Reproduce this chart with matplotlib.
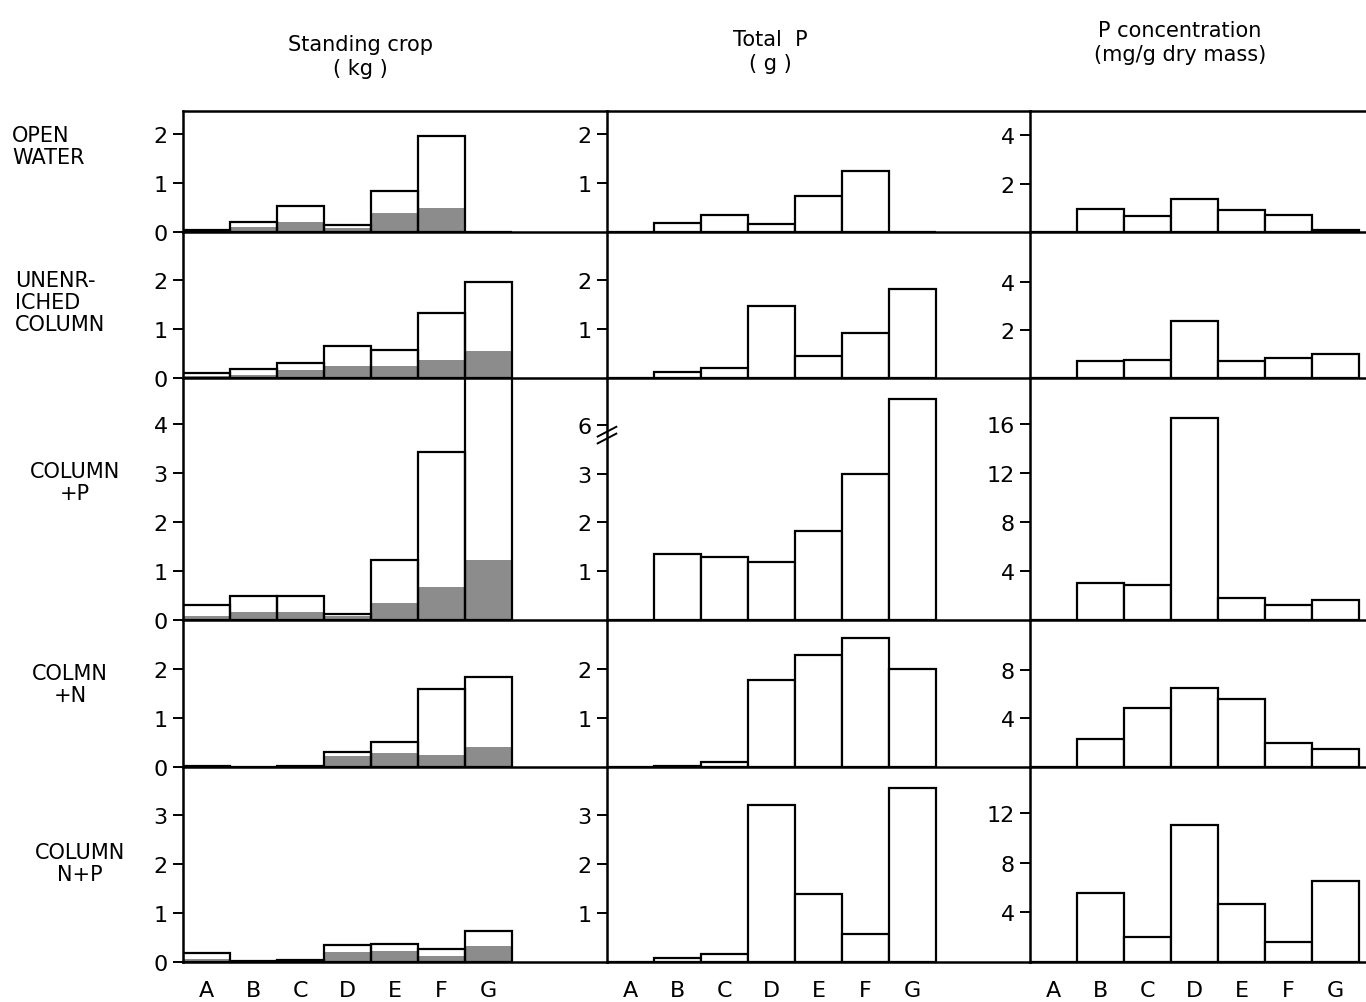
import numpy as np
import matplotlib.pyplot as plt
from matplotlib.transforms import blended_transform_factory

sites = ['A', 'B', 'C', 'D', 'E', 'F', 'G']
treatments = ['OPEN\nWATER', 'UNENR-\nICHED\nCOLUMN', 'COLUMN\n+P', 'COLMN\n+N', 'COLUMN\nN+P']

# standing crop (kg): whole bar and the shaded lower part
crop_total = [
    [0.05, 0.21, 0.53, 0.14, 0.83, 1.95, 0.00],
    [0.10, 0.19, 0.31, 0.66, 0.58, 1.33, 1.95],
    [0.30, 0.48, 0.50, 0.13, 1.23, 3.43, 4.96],
    [0.02, 0.01, 0.02, 0.31, 0.52, 1.60, 1.83],
    [0.19, 0.03, 0.05, 0.34, 0.37, 0.26, 0.63],
]
crop_shaded = [
    [0.05, 0.11, 0.20, 0.08, 0.38, 0.50, 0.00],
    [0.05, 0.07, 0.16, 0.24, 0.24, 0.36, 0.56],
    [0.08, 0.16, 0.16, 0.08, 0.35, 0.67, 1.22],
    [0.02, 0.01, 0.02, 0.22, 0.29, 0.25, 0.41],
    [0.07, 0.03, 0.05, 0.20, 0.22, 0.12, 0.33],
]
# total P (g)
total_p = [
    [0.00, 0.18, 0.34, 0.16, 0.74, 1.25, 0.00],
    [0.00, 0.12, 0.21, 1.47, 0.44, 0.92, 1.82],
    [0.00, 1.35, 1.30, 1.18, 1.83, 3.00, 6.52],
    [0.00, 0.02, 0.10, 1.78, 2.29, 2.63, 1.99],
    [0.00, 0.08, 0.17, 3.21, 1.39, 0.57, 3.55],
]
# P concentration (mg/g dry mass)
p_conc = [
    [0.00, 0.96, 0.65, 1.35, 0.90, 0.72, 0.10],
    [0.00, 0.69, 0.76, 2.40, 0.70, 0.84, 1.00],
    [0.00, 2.99, 2.86, 16.5, 1.80, 1.25, 1.66],
    [0.00, 2.34, 4.88, 6.54, 5.60, 2.00, 1.46],
    [0.00, 5.58, 2.04, 11.07, 4.69, 1.60, 6.51],
]

crop_ticks = [[0, 1, 2], [0, 1, 2], [0, 1, 2, 3, 4], [0, 1, 2], [0, 1, 2, 3]]
p_ticks = [[1, 2], [1, 2], [1, 2, 3, 6], [1, 2], [1, 2, 3]]
conc_ticks = [[2, 4], [2, 4], [4, 8, 12, 16], [4, 8], [4, 8, 12]]

crop_ylim = [2.47, 2.98, 4.94, 3.0, 3.98]
p_ylim = [2.47, 2.98, 6.96, 3.0, 3.98]
conc_ylim = [5.0, 6.1, 19.8, 12.1, 15.7]


# broken axis for the Total P row with the big G value
def brk_fwd(v):
    v = np.asarray(v, dtype=float)
    return np.where(v <= 3.5, v, np.where(v >= 5.5, v - 2.0, 3.5))


def brk_inv(d):
    d = np.asarray(d, dtype=float)
    return np.where(d <= 3.5, d, d + 2.0)


W, H = 1366, 1003
fig = plt.figure(figsize=(W / 100, H / 100), dpi=100)
plt.rcParams['font.family'] = 'DejaVu Sans'

top = 112
baselines = [233, 379, 621, 768, 963]
col_x = [183, 607, 1030]
col_w = [424, 423, 336]
unit = 47.0
lw = 1.6

for r in range(5):
    y_top = top if r == 0 else baselines[r - 1]
    y_bot = baselines[r]
    for c in range(3):
        ax = fig.add_axes([col_x[c] / W, 1 - y_bot / H, col_w[c] / W, (y_bot - y_top) / H])
        ax.patch.set_alpha(0)
        x = np.arange(len(sites))
        if c == 0:
            ax.bar(x, crop_shaded[r], width=1, align='edge', color='#8c8c8c', edgecolor='none')
            ax.bar(x, crop_total[r], width=1, align='edge', fill=False, edgecolor='black', linewidth=lw)
            ax.set_ylim(0, crop_ylim[r])
            ax.set_yticks(crop_ticks[r])
        elif c == 1:
            if r == 2:
                ax.set_yscale('function', functions=(brk_fwd, brk_inv))
            ax.bar(x, total_p[r], width=1, align='edge', facecolor='white', edgecolor='black', linewidth=lw)
            ax.set_ylim(0, p_ylim[r])
            ax.set_yticks(p_ticks[r])
            if r == 2:
                # break marks just below the "6" tick
                tr = blended_transform_factory(ax.transAxes, ax.transData)
                for yb in (5.72, 5.86):
                    ax.plot([-0.022, 0.022], [yb - 0.1, yb + 0.1], color='black', lw=1.4,
                            transform=tr, clip_on=False)
        else:
            ax.bar(x, p_conc[r], width=1, align='edge', facecolor='white', edgecolor='black', linewidth=lw)
            ax.set_ylim(0, conc_ylim[r])
            ax.set_yticks(conc_ticks[r])
        ax.set_xlim(0, col_w[c] / unit)
        ax.set_yticklabels([str(t) for t in ax.get_yticks().astype(int)], fontsize=16)
        ax.tick_params(axis='y', direction='out', length=7, width=1.4, pad=4)
        ax.spines['right'].set_visible(False)
        ax.spines['top'].set_visible(r == 0)
        for s in ['left', 'bottom', 'top']:
            ax.spines[s].set_linewidth(1.8)
        if r == 4:
            ax.set_xticks(x + 0.5)
            ax.set_xticklabels(sites, fontsize=16)
            ax.tick_params(axis='x', length=0, pad=13)
        else:
            ax.set_xticks([])

fig.text(360 / W, 1 - 57 / H, 'Standing crop\n( kg )', ha='center', va='center', fontsize=15, linespacing=1.2)
fig.text(770 / W, 1 - 52 / H, 'Total  P\n( g )', ha='center', va='center', fontsize=15, linespacing=1.2)
fig.text(1180 / W, 1 - 43 / H, 'P concentration\n(mg/g dry mass)', ha='center', va='center', fontsize=15,
         linespacing=1.2)

label_pos = [(12, 147, 'left'), (15, 303, 'left'), (75, 483, 'center'), (70, 685, 'center'), (80, 864, 'center')]
for (lx, ly, ha), name in zip(label_pos, treatments):
    fig.text(lx / W, 1 - ly / H, name, ha=ha, va='center', fontsize=15, linespacing=1.15,
             multialignment='left' if ha == 'left' else 'center')

fig.savefig('out.png', dpi=100)
